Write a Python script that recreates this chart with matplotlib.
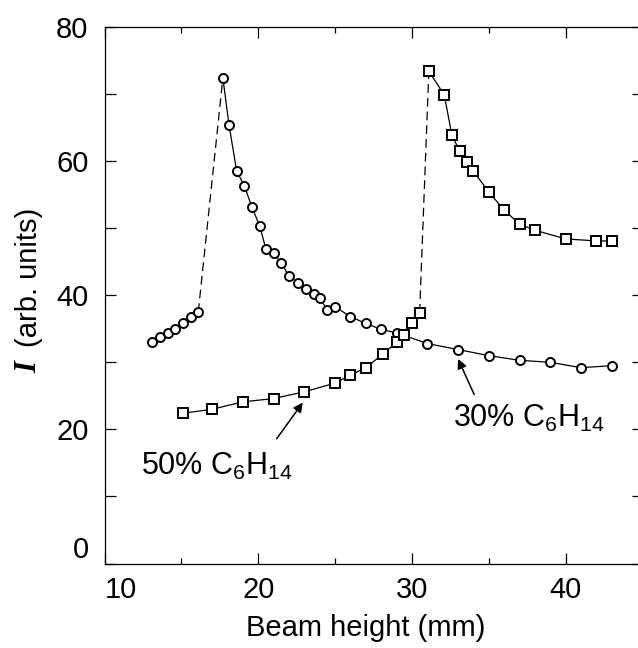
import matplotlib
matplotlib.use("Agg")
import matplotlib.pyplot as plt

plt.rcParams['font.family'] = ['Liberation Sans', 'DejaVu Sans']
plt.rcParams['mathtext.fontset'] = 'custom'
plt.rcParams['mathtext.rm'] = 'Liberation Sans'

# 30% C6H14 (circles)
circ_x = [13.1, 13.6, 14.1, 14.6, 15.1, 15.6, 16.1, 17.7, 18.1, 18.6, 19.1, 19.6,
          20.1, 20.5, 21.0, 21.5, 22.0, 22.6, 23.1, 23.6, 24.0, 24.5, 25.0, 26.0,
          27.0, 28.0, 29.0, 31.0, 33.0, 35.0, 37.0, 39.0, 41.0, 43.0]
circ_y = [33.1, 33.7, 34.3, 34.9, 35.9, 36.8, 37.5, 72.4, 65.4, 58.5, 56.3, 53.1,
          50.3, 46.9, 46.3, 44.8, 42.9, 41.8, 41.0, 40.2, 39.6, 37.8, 38.3, 36.8,
          35.8, 34.9, 34.4, 32.8, 31.9, 31.0, 30.3, 30.0, 29.2, 29.5]
circ_peak = 7

# 50% C6H14 (squares)
sq_x = [15.1, 17.0, 19.0, 21.0, 23.0, 25.0, 26.0, 27.0, 28.1, 29.0, 29.5, 30.0,
        30.5, 31.1, 32.1, 32.6, 33.1, 33.6, 34.0, 35.0, 36.0, 37.0, 38.0, 40.0,
        42.0, 43.0]
sq_y = [22.4, 23.0, 24.1, 24.6, 25.6, 26.9, 28.1, 29.2, 31.2, 33.0, 34.1, 35.8,
        37.4, 73.4, 69.9, 63.9, 61.5, 59.8, 58.5, 55.4, 52.7, 50.6, 49.7, 48.4,
        48.1, 48.1]
sq_peak = 13

fig = plt.figure(figsize=(6.38, 6.48), dpi=100)
ax = fig.add_axes([104.5 / 638, 1 - 563.5 / 648, 538 / 638, 536.5 / 648])

lw = 0.9
dash = (0, (7, 4))


def draw(x, y, p, marker, ms):
    # solid before and after the jump, dashed across the jump
    ax.plot(x[:p], y[:p], '-', color='black', lw=lw, zorder=2)
    ax.plot(x[p - 1:p + 1], y[p - 1:p + 1], linestyle=dash, color='black', lw=lw, zorder=2)
    ax.plot(x[p:], y[p:], '-', color='black', lw=lw, zorder=2)
    ax.plot(x, y, linestyle='none', marker=marker, ms=ms, mfc='white',
            mec='black', mew=1.4, zorder=3)


draw(circ_x, circ_y, circ_peak, 'o', 6.5)
draw(sq_x, sq_y, sq_peak, 's', 6.7)

ax.set_xlim(10, 45)
ax.set_ylim(0, 80)
ax.set_xticks([10, 20, 30, 40])
ax.set_xticks([15, 25, 35], minor=True)
ax.set_yticks([0, 20, 40, 60, 80])
ax.set_yticks([10, 30, 50, 70], minor=True)

ax.tick_params(which='both', direction='in', top=True, right=True, width=0.9,
               labelsize=21)
ax.tick_params(axis='x', which='major', length=7.7, pad=9)
ax.tick_params(axis='x', which='minor', length=4.3)
ax.tick_params(axis='y', which='both', length=8, pad=11.5)

for s in ax.spines.values():
    s.set_linewidth(0.9)

ax.yaxis.get_major_ticks()[0].label1.set_va('bottom')
ax.xaxis.get_major_ticks()[0].label1.set_ha('left')

ax.set_xlabel('Beam height (mm)', fontsize=21)
ax.xaxis.set_label_coords(0.485, -0.094)

fig.text(29 / 638, 1 - 277.5 / 648, '(arb. units)', rotation=90, fontsize=21,
         ha='center', va='center')
fig.text(29 / 638, 1 - 367 / 648, 'I', rotation=90, fontsize=22, ha='center',
         va='center', family=['Liberation Serif', 'DejaVu Serif'],
         weight='bold', style='italic')

ax.text(32.7, 20.4, r'30% C$\mathregular{_6}$H$\mathregular{_{14}}$', fontsize=22,
        ha='left', va='baseline')
ax.text(12.4, 13.2, r'50% C$\mathregular{_6}$H$\mathregular{_{14}}$', fontsize=22,
        ha='left', va='baseline')

arrow = dict(arrowstyle='-|>', color='black', lw=1.1, mutation_scale=14,
             shrinkA=0, shrinkB=0)
ax.annotate('', xy=(33.0, 30.5), xytext=(34.05, 25.2), arrowprops=arrow)
ax.annotate('', xy=(22.9, 24.0), xytext=(21.2, 18.6), arrowprops=arrow)

fig.savefig('out.png', dpi=100)
